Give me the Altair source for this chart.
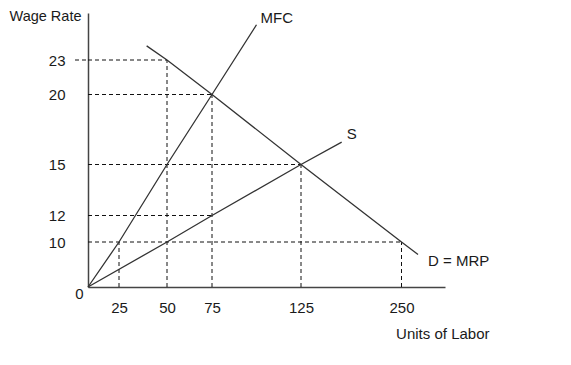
import altair as alt
import pandas as pd

# ---- data ----
labor_ticks = [25, 50, 75, 125, 250]
wage_ticks = [10, 12, 15, 20, 23]

mfc_labor = [0, 25, 50, 75, 100]
mfc_wage = [0, 10, 15, 20, 24.5]
s_labor = [0, 50, 75, 125, 175.6]
s_wage = [0, 10, 12, 15, 16.6]
d_labor = [39.4, 50, 75, 125, 250, 269]
d_wage = [23.6, 23, 20, 15, 10, 7.2]

# dashed guides: horizontal from wage axis to a point, vertical from point down
h_labor = [50, 75, 125, 75, 250]
h_wage = [23, 20, 15, 12, 10]
v_labor = [25, 50, 75, 125, 250]
v_wage = [10, 23, 20, 15, 10]

# ---- tables ----
rows = []
for name, xs, ys in [("MFC", mfc_labor, mfc_wage), ("S", s_labor, s_wage), ("D = MRP", d_labor, d_wage)]:
    for i, (a, b) in enumerate(zip(xs, ys)):
        rows.append({"curve": name, "labor": a, "wage": b, "ord": i})
curves = pd.DataFrame(rows)

guides = pd.DataFrame(
    [{"labor": 0, "labor2": a, "wage": b, "wage2": b} for a, b in zip(h_labor, h_wage)]
    + [{"labor": a, "labor2": a, "wage": 0, "wage2": b} for a, b in zip(v_labor, v_wage)]
)
lead = pd.DataFrame([{"labor": 0, "labor2": 0, "wage": max(h_wage), "wage2": max(h_wage)}])

ends = pd.DataFrame([
    {"curve": "MFC", "labor": mfc_labor[-1], "wage": mfc_wage[-1]},
    {"curve": "S", "labor": s_labor[-1], "wage": s_wage[-1]},
    {"curve": "D = MRP", "labor": d_labor[-1], "wage": d_wage[-1]},
])
origin = pd.DataFrame([{"labor": 0, "wage": 0, "t": "0"}])

FONT = "Liberation Sans"
FS = 15
TXT = "#1a1a1a"
LINE = "#333333"

x_scale = alt.Scale(domain=[0, 25, 50, 75, 125, 250, 300],
                    range=[0, 31, 79, 124, 213, 313.5, 357], nice=False, zero=False)
y_scale = alt.Scale(domain=[0, 10, 12, 15, 20, 23, 25],
                    range=[274, 229, 202.5, 151.5, 81.5, 47, 0], nice=False, zero=False)

x_axis = alt.Axis(values=labor_ticks, grid=False, ticks=False, tickSize=0,
                  labelFontSize=FS, labelFont=FONT, labelColor=TXT, labelPadding=13,
                  domainColor="#444444", domainWidth=1.5,
                  title="Units of Labor", titleFont=FONT, titleFontSize=FS, titleFontWeight="normal",
                  titleColor=TXT, titleX=401, titleY=46, titleAlign="right", titleBaseline="middle",
                  titleAnchor="start")
y_axis = alt.Axis(values=wage_ticks, grid=False, ticks=False, tickSize=0,
                  labelFontSize=FS, labelFont=FONT, labelColor=TXT, labelPadding=23,
                  domainColor="#444444", domainWidth=1.5,
                  title="Wage Rate", titleFont=FONT, titleFontSize=14.5, titleFontWeight="normal",
                  titleColor=TXT, titleAngle=0, titleX=-79, titleY=-4, titleAlign="left",
                  titleBaseline="top", titleAnchor="start")

X = alt.X("labor:Q", scale=x_scale, axis=x_axis)
Y = alt.Y("wage:Q", scale=y_scale, axis=y_axis)

lines = alt.Chart(curves).mark_line(color=LINE, strokeWidth=1.3).encode(
    x=X, y=Y, detail="curve:N", order="ord:Q")

guide_rules = alt.Chart(guides).mark_rule(color="#111111", strokeWidth=1, strokeDash=[4, 3]).encode(
    x=X, y=Y, x2="labor2:Q", y2="wage2:Q")

lead_rule = alt.Chart(lead).mark_rule(color="#111111", strokeWidth=1, strokeDash=[4, 3], xOffset=-13).encode(
    x=X, y=Y, x2="labor2:Q", y2="wage2:Q")

def end_label(name, dx, dy):
    return alt.Chart(ends[ends.curve == name]).mark_text(
        align="left", baseline="middle", dx=dx, dy=dy, font=FONT, fontSize=FS, color=TXT
    ).encode(x=X, y=Y, text="curve:N")

mfc_lab = end_label("MFC", 4, -6.5)
s_lab = end_label("S", 5, -8)
d_lab = end_label("D = MRP", 10, 6)

zero_lab = alt.Chart(origin).mark_text(
    align="center", baseline="middle", dx=-8.5, dy=7, font=FONT, fontSize=FS, color=TXT
).encode(x=X, y=Y, text="t:N")

chart = alt.layer(guide_rules, lead_rule, lines, mfc_lab, s_lab, d_lab, zero_lab).properties(
    width=357, height=274,
    autosize=alt.AutoSizeParams(type="none"),
    padding={"left": 80, "top": 5, "right": 110, "bottom": 60},
    background="white",
).configure_view(stroke=None)

chart.save("out.html", embed_options={"renderer": "svg", "actions": False})
